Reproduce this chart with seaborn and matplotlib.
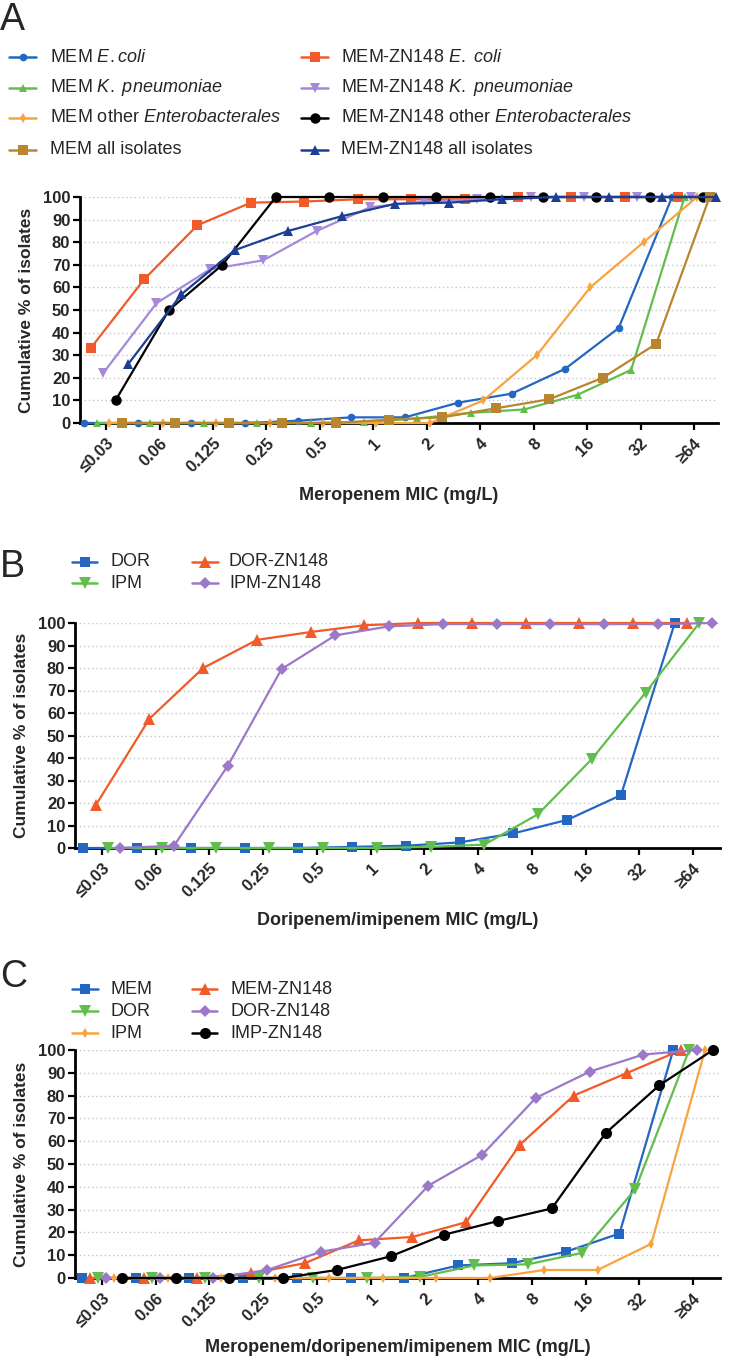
import matplotlib
matplotlib.use("Agg")
import matplotlib.pyplot as plt
from matplotlib.lines import Line2D
import numpy as np
import pandas as pd
import seaborn as sns

# MIC categories shared by the three panels
cats = ["≤0.03", "0.06", "0.125", "0.25", "0.5", "1", "2", "4", "8", "16", "32", "≥64"]

# Panel A - cumulative % of isolates
a_mem_ecoli = [0, 0, 0, 0, 1, 2.5, 2.5, 9, 13, 24, 42, 100]
a_zn_ecoli = [33, 63.5, 87.5, 97.5, 98, 99, 99, 99, 100, 100, 100, 100]
a_mem_kpn = [0, 0, 0, 0, 0, 0.5, 2, 4.5, 6, 12.5, 23.5, 100]
a_zn_kpn = [22, 53, 68, 72, 85, 95.5, 98, 99, 100, 100, 100, 100]
a_mem_other = [0, 0, 0, 0, 0, 0, 0, 10, 30, 60, 80, 100]
a_zn_other = [10, 50, 70, 100, 100, 100, 100, 100, 100, 100, 100, 100]
a_mem_all = [0, 0, 0, 0, 0, 1.5, 2.5, 6.5, 10.5, 20, 35, 100]
a_zn_all = [26, 57, 76.5, 85, 91.5, 97, 97.5, 99, 100, 100, 100, 100]

# Panel B
b_dor = [0, 0, 0, 0, 0, 0.5, 1, 2.5, 6.5, 12.5, 23.5, 100]
b_dor_zn = [19, 57.5, 80, 92.5, 96, 99, 100, 100, 100, 100, 100, 100]
b_ipm = [0, 0, 0, 0, 0, 0, 0.5, 1.5, 15, 39.5, 69, 100]
b_ipm_zn = [0, 1, 36.5, 79.5, 94.5, 98.5, 99.5, 99.5, 99.5, 99.5, 99.5, 100]

# Panel C
c_mem = [0, 0, 0, 0, 0, 0, 0, 5.5, 6.5, 11.5, 19.5, 100]
c_mem_zn = [0, 0, 0, 2, 6.5, 16.5, 18, 24.5, 58.5, 80, 90, 100]
c_dor = [0, 0, 0, 0, 0, 0, 0.5, 5.5, 6, 11, 39, 100]
c_dor_zn = [0, 0, 0, 3.5, 11.5, 15.5, 40.5, 54, 79, 90.5, 98, 100]
c_ipm = [0, 0, 0, 0, 0, 0, 0, 0, 3.5, 3.5, 15, 100]
c_imp_zn = [0, 0, 0, 0, 3.5, 9.5, 19, 25, 30.5, 63.5, 84.5, 100]

BLUE = "#2467c2"
RED = "#f15a29"
GREEN = "#62be4c"
LAVENDER = "#a48ad8"
PURPLE = "#9b79c8"
ORANGE = "#f7a440"
BROWN = "#b8862e"
NAVY = "#1c3e93"

sns.set_style("ticks")
plt.rcParams["font.family"] = ["Liberation Sans", "DejaVu Sans"]
plt.rcParams["mathtext.fontset"] = "custom"
plt.rcParams["mathtext.rm"] = "Liberation Sans"
plt.rcParams["mathtext.it"] = "Liberation Sans:italic"

W, H = 733, 1367
fig = plt.figure(figsize=(W / 100, H / 100), dpi=100)


def px_axes(left, top, right, bottom):
    return fig.add_axes([left / W, 1 - bottom / H, (right - left) / W, (bottom - top) / H])


def key(x0, x1, xt, y, color, marker, ms, label):
    '''draws one legend entry, positions in figure pixels'''
    yy = 1 - y / H
    fig.add_artist(Line2D([x0 / W, x1 / W], [yy, yy], transform=fig.transFigure,
                          color=color, lw=1.8))
    fig.add_artist(Line2D([(x0 + x1) / 2 / W], [yy], transform=fig.transFigure,
                          color=color, marker=marker, ms=ms, mew=0))
    fig.text(xt / W, yy, label, fontsize=13, va="center", ha="left")


def panel(ax, series, spacing, xlim, xlabel, lab_y):
    '''series: list of (name, values, color, marker, markersize)'''
    n = len(series)
    rows = []
    for i, (name, vals, c, m, ms) in enumerate(series):
        for j, v in enumerate(vals):
            rows.append({"series": name, "cat": j, "pct": v,
                         "x": j + (i - (n - 1) / 2) * spacing})
    df = pd.DataFrame(rows)
    for i, (name, vals, c, m, ms) in enumerate(series):
        sub = df[df["series"] == name]
        sns.lineplot(data=sub, x="x", y="pct", ax=ax, color=c, marker=m,
                     markersize=ms, markeredgewidth=0, linewidth=1.6,
                     clip_on=False, zorder=3 + i)
    ax.set_xlim(*xlim)
    ax.set_ylim(0, 100)
    ax.set_yticks(np.arange(0, 101, 10))
    ax.set_xticks(range(len(cats)))
    ax.set_xticklabels(cats, rotation=45, ha="right", va="top",
                       rotation_mode="anchor", fontweight="bold", fontsize=12)
    for t in ax.get_yticklabels():
        t.set_fontweight("bold")
        t.set_fontsize(12)
    ax.grid(axis="y", color="#c4c4c4", linestyle=(0, (1, 2)), linewidth=1)
    ax.set_axisbelow(True)
    sns.despine(ax=ax)
    for s in ["left", "bottom"]:
        ax.spines[s].set_linewidth(2)
        ax.spines[s].set_color("black")
    ax.tick_params(axis="both", width=1.6, length=5, color="black", pad=2)
    ax.tick_params(axis="x", pad=4)
    ax.set_xlabel(xlabel, fontsize=13, fontweight="bold", va="top")
    ax.xaxis.set_label_coords(0.5, lab_y)
    ax.set_ylabel("Cumulative % of isolates", fontsize=12.5, fontweight="bold")
    ax.yaxis.set_label_coords(-0.072, 0.5)


# ---------------- Panel A
axA = px_axes(80, 197, 718, 423)
seriesA = [
    ("MEM $\\it{E.coli}$", a_mem_ecoli, BLUE, "o", 5.5),
    ("MEM-ZN148 $\\it{E.\\ coli}$", a_zn_ecoli, RED, "s", 6.5),
    ("MEM $\\it{K.\\ pneumoniae}$", a_mem_kpn, GREEN, "^", 5.5),
    ("MEM-ZN148 $\\it{K.\\ pneumoniae}$", a_zn_kpn, LAVENDER, "v", 6.5),
    ("MEM other $\\it{Enterobacterales}$", a_mem_other, ORANGE, "d", 5.5),
    ("MEM-ZN148 other $\\it{Enterobacterales}$", a_zn_other, "black", "o", 7.5),
    ("MEM all isolates", a_mem_all, BROWN, "s", 7.5),
    ("MEM-ZN148 all isolates", a_zn_all, NAVY, "^", 7.5),
]
panel(axA, seriesA, 0.117, (-0.49, 11.45), "Meropenem MIC (mg/L)", -0.283)
fig.text(0, 1 - 20 / H, "A", fontsize=27, va="center", ha="left")
rowsA = [57, 88, 118, 150]
for i, (name, vals, c, m, ms) in enumerate(seriesA):
    r, col = divmod(i, 2)
    if col == 0:
        key(9, 36, 50, rowsA[r], c, m, ms, name)
    else:
        key(301, 328, 341, rowsA[r], c, m, ms, name)

# ---------------- Panel B
axB = px_axes(75, 623, 720, 848)
seriesB = [
    ("DOR", b_dor, BLUE, "s", 7.5),
    ("DOR-ZN148", b_dor_zn, RED, "^", 8),
    ("IPM", b_ipm, GREEN, "v", 8),
    ("IPM-ZN148", b_ipm_zn, PURPLE, "D", 6.5),
]
panel(axB, seriesB, 0.228, (-0.5, 11.5), "Doripenem/imipenem MIC (mg/L)", -0.284)
fig.text(0, 1 - 567 / H, "B", fontsize=27, va="center", ha="left")
rowsB = [562, 583]
for i, (name, vals, c, m, ms) in enumerate(seriesB):
    r, col = divmod(i, 2)
    if col == 0:
        key(72, 97, 110, rowsB[r], c, m, ms, name)
    else:
        key(192, 218, 229, rowsB[r], c, m, ms, name)

# ---------------- Panel C
axC = px_axes(75, 1050, 720, 1278)
seriesC = [
    ("MEM", c_mem, BLUE, "s", 7.5),
    ("MEM-ZN148", c_mem_zn, RED, "^", 8),
    ("DOR", c_dor, GREEN, "v", 8),
    ("DOR-ZN148", c_dor_zn, PURPLE, "D", 6.5),
    ("IPM", c_ipm, ORANGE, "d", 5.5),
    ("IMP-ZN148", c_imp_zn, "black", "o", 8),
]
panel(axC, seriesC, 0.148, (-0.5, 11.5), "Meropenem/doripenem/imipenem MIC (mg/L)", -0.268)
fig.text(0, 1 - 977 / H, "C", fontsize=27, va="center", ha="left")
rowsC = [989, 1011, 1033]
for i, (name, vals, c, m, ms) in enumerate(seriesC):
    r, col = divmod(i, 2)
    if col == 0:
        key(72, 98, 110, rowsC[r], c, m, ms, name)
    else:
        key(192, 217, 230, rowsC[r], c, m, ms, name)

fig.savefig("out.png", dpi=100)
